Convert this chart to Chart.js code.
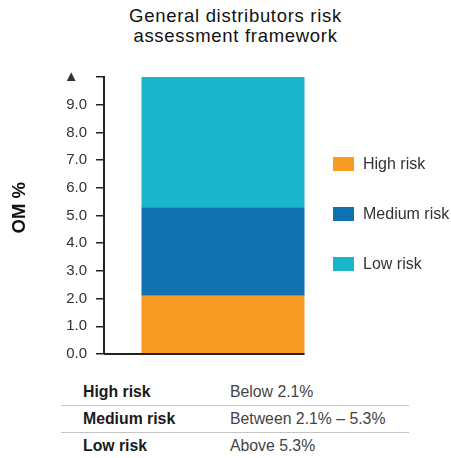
<!DOCTYPE html>
<html>
<head>
<meta charset="utf-8">
<script src="https://cdn.jsdelivr.net/npm/chart.js@4"></script>
<style>
  body { margin: 0; background: #fff; font-family: "Liberation Sans", Arial, sans-serif; }
  #wrap { position: relative; width: 451px; height: 458px; overflow: hidden; }
  #title { position: absolute; left: 20px; right: 0; top: 6px; text-align: center;
           font-size: 18.5px; line-height: 20px; letter-spacing: 0.7px; color: #111; }
  #chartBox { position: absolute; left: 0; top: 0; width: 345px; height: 372px; }
  #legend { position: absolute; left: 333px; top: 139px; }
  .legend-row { height: 50px; display: flex; align-items: center; font-size: 16px; color: #333; }
  .legend-row span.box { display: inline-block; width: 21px; height: 14px; margin-right: 9px; }
  #table { position: absolute; left: 61px; top: 378px; width: 348px; }
  .row { box-sizing: border-box; height: 27px; line-height: 27px; font-size: 15.8px; position: relative; }
  .row + .row { border-top: 1px solid #c4c4c4; line-height: 26px; }
  .row .name { position: absolute; left: 22px; font-weight: bold; color: #1a1a1a; }
  .row .value { position: absolute; left: 169px; color: #444; }
</style>
</head>
<body>
<div id="wrap">
  <div id="title">General distributors risk<br>assessment framework</div>
  <div id="chartBox"><canvas id="riskChart"></canvas></div>
  <div id="legend"></div>
  <div id="table"></div>
</div>
<script>
// data
const categories = ['OM'];
const seriesNames = ['High risk', 'Medium risk', 'Low risk'];
const highRisk = [2.1];
const mediumRisk = [3.2];
const lowRisk = [4.7];
const seriesColors = ['#F79B23', '#1072AE', '#1AB4CB'];
const tickLabels = ['0.0', '1.0', '2.0', '3.0', '4.0', '5.0', '6.0', '7.0', '8.0', '9.0', '▲  '];
const thresholds = ['Below 2.1%', 'Between 2.1% – 5.3%', 'Above 5.3%'];

// line along the bottom, from the axis to the right side of the bar
const baseLine = {
  id: 'baseLine',
  afterDatasetsDraw(chart) {
    const { ctx, chartArea, scales } = chart;
    const bar = chart.getDatasetMeta(0).data[0];
    const y = scales.y.getPixelForValue(0);
    ctx.save();
    ctx.strokeStyle = '#222';
    ctx.lineWidth = 2;
    ctx.beginPath();
    ctx.moveTo(chartArea.left, y);
    ctx.lineTo(bar.x + bar.width / 2, y);
    ctx.stroke();
    ctx.restore();
  }
};

const seriesData = [highRisk, mediumRisk, lowRisk];

new Chart(document.getElementById('riskChart'), {
  type: 'bar',
  data: {
    labels: categories,
    datasets: seriesNames.map((name, i) => ({
      label: name,
      data: seriesData[i],
      backgroundColor: seriesColors[i],
      borderWidth: 0,
      categoryPercentage: 1,
      barPercentage: 0.685
    }))
  },
  options: {
    responsive: true,
    maintainAspectRatio: false,
    animation: false,
    layout: { padding: { top: 77, bottom: 4, left: 0, right: 3 } },
    plugins: {
      legend: { display: false },
      tooltip: { enabled: false }
    },
    scales: {
      x: { stacked: true, display: false },
      y: {
        stacked: true,
        min: 0,
        max: 10,
        afterFit: s => { s.width = 104; },
        ticks: {
          stepSize: 1,
          padding: 9,
          color: '#333',
          font: { family: '"Liberation Sans", Arial, sans-serif', size: 15 },
          callback: (v, i) => tickLabels[i]
        },
        grid: { drawOnChartArea: false, tickLength: 8, color: '#222', lineWidth: 1.5 },
        border: { display: true, color: '#222', width: 2 },
        title: {
          display: true,
          text: '   OM %',
          color: '#111',
          padding: { top: 9, bottom: 0 },
          font: { family: '"Liberation Sans", Arial, sans-serif', size: 18.5, weight: 'bold' }
        }
      }
    }
  },
  plugins: [baseLine]
});

// legend
const legend = document.getElementById('legend');
seriesNames.forEach((name, i) => {
  const row = document.createElement('div');
  row.className = 'legend-row';
  row.innerHTML = `<span class="box" style="background:${seriesColors[i]}"></span>${name}`;
  legend.appendChild(row);
});

// table under the chart
const table = document.getElementById('table');
seriesNames.forEach((name, i) => {
  const row = document.createElement('div');
  row.className = 'row';
  row.innerHTML = `<span class="name">${name}</span><span class="value">${thresholds[i]}</span>`;
  table.appendChild(row);
});
</script>
</body>
</html>
